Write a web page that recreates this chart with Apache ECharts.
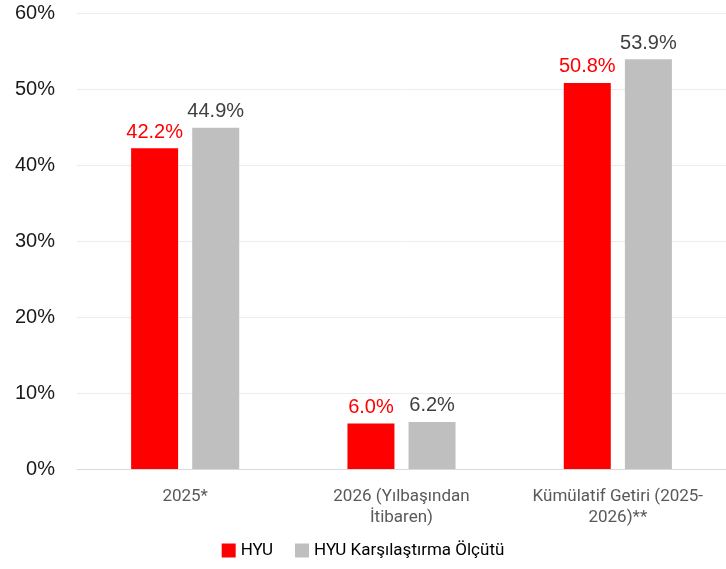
<!DOCTYPE html>
<html>
<head>
<meta charset="utf-8">
<script src="https://cdn.jsdelivr.net/npm/echarts@6/dist/echarts.min.js"></script>
<style>
  html, body { margin: 0; padding: 0; background: #fff; }
  #chart { width: 726px; height: 569px; }
</style>
</head>
<body>
<div id="chart"></div>
<script>
var categories = ['2025*', '2026 (Yılbaşından\nİtibaren)', 'Kümülatif Getiri (2025-\n2026)**'];
var hyuValues = [42.2, 6.0, 50.8];
var benchValues = [44.9, 6.2, 53.9];
var seriesNames = ['HYU', 'HYU Karşılaştırma Ölçütü'];

var myChart = echarts.init(document.getElementById('chart'));
var option = {
    backgroundColor: '#fff',
    animation: false,
    grid: { left: 77, right: 0, top: 13, bottom: 100 },
    legend: {
        bottom: 5,
        left: 'center',
        itemWidth: 14,
        itemHeight: 14,
        itemGap: 22,
        icon: 'rect',
        textStyle: { fontFamily: 'Roboto', fontSize: 17, color: '#000' },
        data: seriesNames
    },
    xAxis: {
        type: 'category',
        data: categories,
        axisLine: { lineStyle: { color: '#d9d9d9', width: 1 } },
        axisTick: { show: false },
        axisLabel: {
            margin: 17,
            color: '#595959',
            fontFamily: 'Roboto',
            fontSize: 17,
            lineHeight: 21,
            interval: 0
        }
    },
    yAxis: {
        type: 'value',
        min: 0,
        max: 60,
        interval: 10,
        axisLine: { show: false },
        axisTick: { show: false },
        splitLine: { lineStyle: { color: '#ececec', width: 1 } },
        axisLabel: {
            margin: 22,
            color: '#1a1a1a',
            fontFamily: 'Liberation Sans',
            fontSize: 20,
            formatter: '{value}%'
        }
    },
    series: [{
        name: seriesNames[0],
        type: 'bar',
        data: hyuValues,
        barWidth: 47,
        barGap: '30%',
        itemStyle: { color: '#ff0000' },
        label: {
            show: true,
            position: 'top',
            distance: 6,
            color: '#ff0000',
            fontFamily: 'Liberation Sans',
            fontSize: 20,
            formatter: function (p) { return p.value.toFixed(1) + '%'; }
        }
    }, {
        name: seriesNames[1],
        type: 'bar',
        data: benchValues,
        barWidth: 47,
        itemStyle: { color: '#bfbfbf' },
        label: {
            show: true,
            position: 'top',
            distance: 6,
            color: '#404040',
            fontFamily: 'Liberation Sans',
            fontSize: 20,
            formatter: function (p) { return p.value.toFixed(1) + '%'; }
        }
    }]
};
myChart.setOption(option);
window.addEventListener('resize', function () { myChart.resize(); });
</script>
</body>
</html>
